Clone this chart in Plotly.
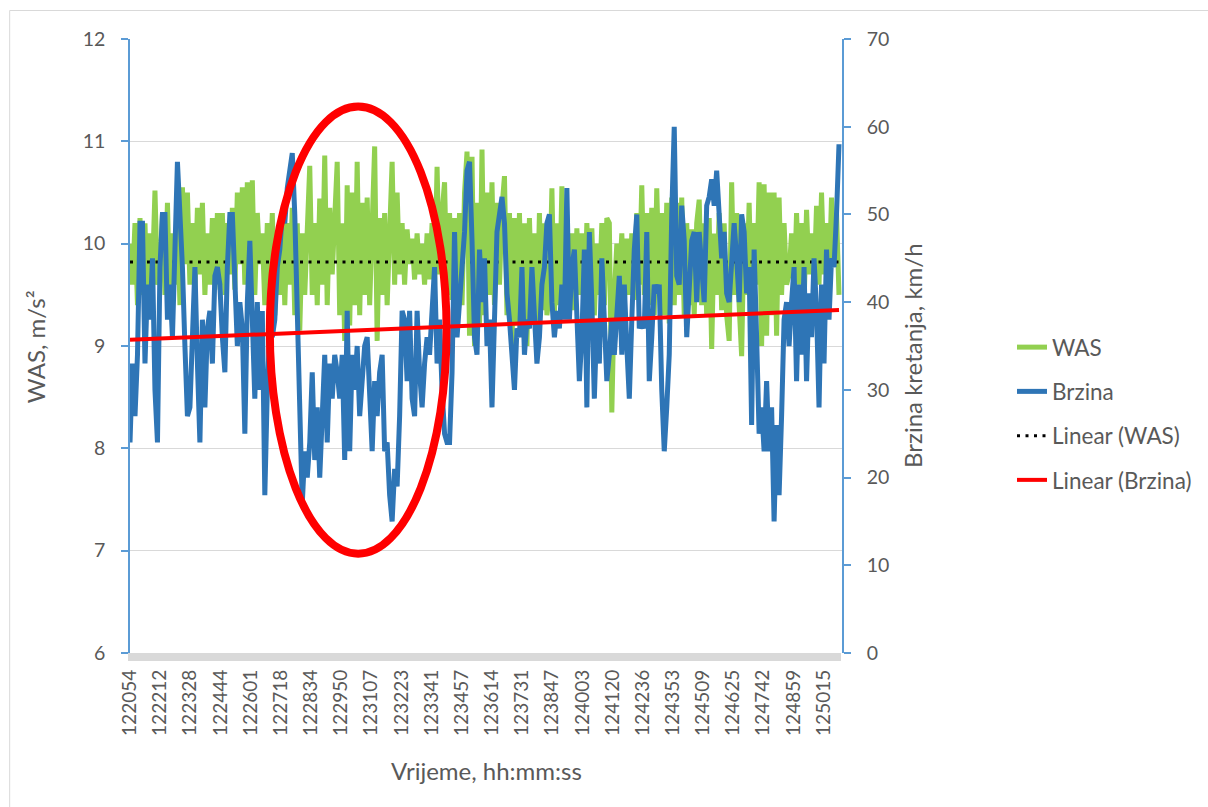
import plotly.graph_objects as go

# ---------------- data ----------------
TIME_LABELS = ["122054", "122212", "122328", "122444", "122601", "122718",
               "122834", "122950", "123107", "123223", "123341", "123457",
               "123614", "123731", "123847", "124003", "124120", "124236",
               "124353", "124509", "124625", "124742", "124859", "125015"]

# WAS, m/s^2 (sampled along the time axis)
WAS = [
    10.0, 9.6, 10.2, 9.4, 10.25, 9.5, 10.2, 9.3, 10.1, 9.7, 10.52, 9.6,
    9.7, 10.3, 9.5, 10.4, 9.35, 10.1, 9.6, 10.3, 9.4, 10.55, 9.8, 10.5,
    9.6, 10.2, 9.5, 10.35, 9.7, 10.4, 9.5, 10.1, 9.6, 10.25, 9.55, 10.3,
    9.6, 10.3, 9.5, 10.2, 9.7, 10.35, 9.55, 10.5, 9.8, 10.55, 9.6, 10.6,
    9.7, 10.62, 9.5, 10.3, 9.8, 10.1, 9.4, 10.2, 9.6, 10.3, 9.3, 10.1,
    9.5, 10.3, 9.4, 10.2, 9.6, 10.35, 9.3, 10.2, 9.15, 10.1, 9.5, 10.25,
    10.76, 9.5, 10.2, 9.4, 10.44, 9.6, 10.86, 9.4, 10.35, 9.7, 10.3, 10.8,
    9.3, 10.2, 9.05, 10.57, 9.2, 10.5, 9.4, 10.8, 9.3, 10.4, 9.5, 10.45,
    9.4, 10.3, 10.95, 9.05, 10.25, 9.5, 10.3, 9.4, 10.2, 10.8, 9.6, 10.5,
    9.7, 10.2, 9.6, 10.14, 9.8, 10.05, 9.65, 10.1, 9.7, 10.0, 9.6, 10.1,
    9.65, 10.2, 9.6, 10.75, 9.7, 10.3, 10.6, 9.5, 10.3, 9.45, 10.25, 9.6,
    10.3, 9.4, 10.5, 10.9, 9.1, 10.85, 9.0, 10.4, 9.2, 10.92, 9.3, 10.5,
    9.5, 10.6, 9.4, 10.4, 9.6, 10.35, 10.66, 9.3, 10.3, 9.0, 10.25, 9.2,
    10.3, 9.3, 10.2, 9.0, 10.25, 9.4, 10.1, 9.2, 10.3, 9.35, 10.2, 9.3,
    9.5, 10.54, 9.3, 10.2, 9.4, 10.56, 9.5, 10.14, 9.6, 10.1, 9.35, 10.15,
    9.5, 10.1, 9.4, 10.2, 9.6, 10.15, 9.3, 10.0, 9.5, 10.2, 9.4, 10.25,
    10.2, 8.35, 9.5, 10.0, 9.6, 10.1, 9.4, 10.05, 9.5, 10.1, 9.45, 10.3,
    9.6, 10.57, 9.5, 10.3, 9.4, 10.35, 9.3, 10.54, 9.6, 10.3, 9.3, 10.4,
    9.22, 10.45, 9.4, 10.4, 9.5, 10.45, 9.3, 10.2, 9.4, 10.14, 9.3, 10.2,
    10.43, 9.4, 10.2, 9.3, 10.25, 8.97, 10.1, 9.5, 10.3, 9.35, 10.2, 9.3,
    9.05, 10.6, 9.5, 10.3, 9.4, 8.9, 10.2, 9.5, 10.4, 9.4, 10.2, 9.6,
    10.6, 9.0, 10.58, 9.1, 10.5, 9.3, 10.5, 9.1, 10.45, 9.5, 10.2, 9.6,
    9.7, 10.1, 9.5, 10.3, 9.6, 10.2, 9.4, 10.33, 9.7, 10.1, 9.6, 10.37,
    9.6, 10.5, 9.7, 10.2, 9.6, 10.45, 9.8, 10.3, 9.5,
]

# Brzina kretanja, km/h
BRZINA = [
    24, 33, 27, 34, 49, 49, 33, 42, 38, 45, 30, 24,
    44, 50, 50, 38, 42, 36, 46, 56, 50, 44, 35, 27,
    28, 36, 44, 33, 24, 38, 28, 37, 39, 33, 43, 44,
    42, 36, 32, 44, 50, 50, 42, 35, 40, 37, 25, 40,
    47, 38, 29, 40, 30, 39, 18, 30, 37, 36, 38, 44,
    46, 50, 49, 53, 55, 57, 50, 38, 24, 17, 23, 20,
    24, 32, 22, 28, 20, 27, 34, 24, 33, 29, 34, 32,
    29, 34, 22, 39, 23, 34, 30, 35, 27, 31, 35, 36,
    30, 23, 31, 27, 32, 34, 23, 24, 18, 15, 21, 19,
    27, 39, 38, 31, 39, 29, 27, 39, 32, 28, 33, 36,
    34, 40, 44, 33, 38, 30, 25, 24, 24, 32, 48, 36,
    40, 45, 48, 55, 56, 47, 36, 34, 46, 40, 45, 35,
    38, 28, 40, 48, 50, 52, 49, 41, 38, 33, 30, 37,
    36, 44, 34, 38, 37, 44, 38, 33, 36, 42, 44, 49,
    50, 40, 36, 39, 37, 42, 38, 53, 38, 44, 46, 40,
    31, 36, 46, 28, 48, 40, 29, 38, 33, 45, 37, 31,
    34, 38, 34, 39, 43, 34, 42, 35, 29, 38, 46, 50,
    37, 38, 37, 48, 31, 36, 42, 41, 42, 30, 23, 28,
    34, 50, 60, 43, 42, 51, 47, 36, 42, 47, 48, 40,
    48, 43, 40, 51, 52, 54, 51, 55, 50, 45, 48, 41,
    40, 44, 49, 45, 40, 50, 48, 41, 44, 26, 46, 36,
    25, 28, 23, 31, 23, 28, 15, 26, 18, 27, 38, 40,
    35, 40, 44, 31, 42, 34, 44, 31, 41, 36, 45, 39,
    28, 42, 33, 46, 38, 45, 44, 50, 58,
]

# linear trend lines (start value, end value)
WAS_TREND = [9.82, 9.82]
BRZINA_TREND = [35.7, 39.1]

# ---------------- styling constants ----------------
FONT = "Lato"
TXT = "#595959"
AXIS_BLUE = "#5B9BD5"
GRID = "#D9D9D9"
PTS_PER_LABEL = 12.08          # samples between two time labels

n = len(BRZINA)
x_idx = list(range(n))
x_was = list(range(len(WAS)))
x_end = n - 1

fig = go.Figure()
fig.add_trace(go.Scatter(x=x_was, y=WAS, name="WAS", mode="lines",
                         line=dict(color="#92D050", width=5),
                         legendgroup="a", yaxis="y"))
fig.add_trace(go.Scatter(x=x_idx, y=BRZINA, name="Brzina", mode="lines",
                         line=dict(color="#2E75B6", width=5),
                         legendgroup="b", yaxis="y2"))
fig.add_trace(go.Scatter(x=[0, x_end], y=WAS_TREND, name="Linear (WAS)",
                         mode="lines",
                         line=dict(color="black", width=3, dash="3px,5.5px"),
                         legendgroup="c", yaxis="y"))
fig.add_trace(go.Scatter(x=[0, x_end], y=BRZINA_TREND, name="Linear (Brzina)",
                         mode="lines", line=dict(color="#FF0000", width=4),
                         legendgroup="d", yaxis="y2"))

W, H = 1208, 807
ML, MR, MT, MB = 130, 365, 39, 154
PW, PH = W - ML - MR, H - MT - MB


def px(xp):
    return (xp - ML) / PW


def py(yp):
    return (H - MB - yp) / PH


fig.update_layout(
    width=W, height=H,
    margin=dict(l=ML, r=MR, t=MT, b=MB),
    paper_bgcolor="white", plot_bgcolor="white",
    font=dict(family=FONT, color=TXT, size=19),
    showlegend=True,
    legend=dict(x=px(1012), y=py(326), xanchor="left", yanchor="top",
                font=dict(family=FONT, size=22.5, color=TXT),
                traceorder="grouped", tracegroupgap=12,
                bgcolor="rgba(0,0,0,0)"),
    xaxis=dict(range=[0, (843 - ML) / 2.5], showgrid=False, zeroline=False,
               showline=False, ticks="",
               tickmode="array",
               tickvals=[k * PTS_PER_LABEL for k in range(len(TIME_LABELS))],
               ticktext=TIME_LABELS, tickangle=-90,
               tickfont=dict(family=FONT, size=19, color=TXT),
               ticklabelstandoff=12),
    yaxis=dict(range=[6, 12], dtick=1, showgrid=True, gridcolor=GRID,
               gridwidth=1, zeroline=False, showline=True,
               linecolor=AXIS_BLUE, linewidth=1.5, ticks="outside",
               ticklen=7, tickwidth=1.5, tickcolor=AXIS_BLUE,
               tickfont=dict(family=FONT, size=19.5, color=TXT),
               ticklabelstandoff=12),
    yaxis2=dict(range=[0, 70], dtick=10, overlaying="y", side="right",
                showgrid=False, zeroline=False, showline=True,
                linecolor=AXIS_BLUE, linewidth=1.5, ticks="outside",
                ticklen=7, tickwidth=1.5, tickcolor=AXIS_BLUE,
                tickfont=dict(family=FONT, size=19.5, color=TXT),
                ticklabelstandoff=12),
)

# axis titles
fig.add_annotation(text="WAS, m/s²", xref="paper", yref="paper",
                   x=px(35), y=py(347), textangle=-90, showarrow=False,
                   xanchor="center", yanchor="middle",
                   font=dict(family=FONT, size=24, color=TXT))
fig.add_annotation(text="Brzina kretanja, km/h", xref="paper", yref="paper",
                   x=px(913), y=py(356), textangle=-90, showarrow=False,
                   xanchor="center", yanchor="middle",
                   font=dict(family=FONT, size=24, color=TXT))
fig.add_annotation(text="Vrijeme, hh:mm:ss", xref="paper", yref="paper",
                   x=px(487), y=py(770), showarrow=False,
                   xanchor="center", yanchor="middle",
                   font=dict(family=FONT, size=24, color=TXT))

# chart border, thick category axis band, highlight ellipse
fig.add_shape(type="rect", xref="paper", yref="paper",
              x0=px(9.5), x1=px(1230), y0=py(830), y1=py(10.5),
              line=dict(color=GRID, width=1), fillcolor="rgba(0,0,0,0)",
              layer="below")
fig.add_shape(type="rect", xref="paper", yref="paper",
              x0=px(128), x1=px(842), y0=py(661), y1=py(653),
              line=dict(width=0), fillcolor=GRID, layer="above")
fig.add_shape(type="circle", xref="x", yref="y",
              x0=(270 - ML) / 2.5, x1=(447 - ML) / 2.5,
              y0=6.97, y1=11.34,
              line=dict(color="#FF0000", width=8), layer="above")

fig.write_html(
    "out.html",
    config={"displayModeBar": False},
    post_script="document.body.style.margin='0';"
                "document.body.style.overflow='hidden';",
)
